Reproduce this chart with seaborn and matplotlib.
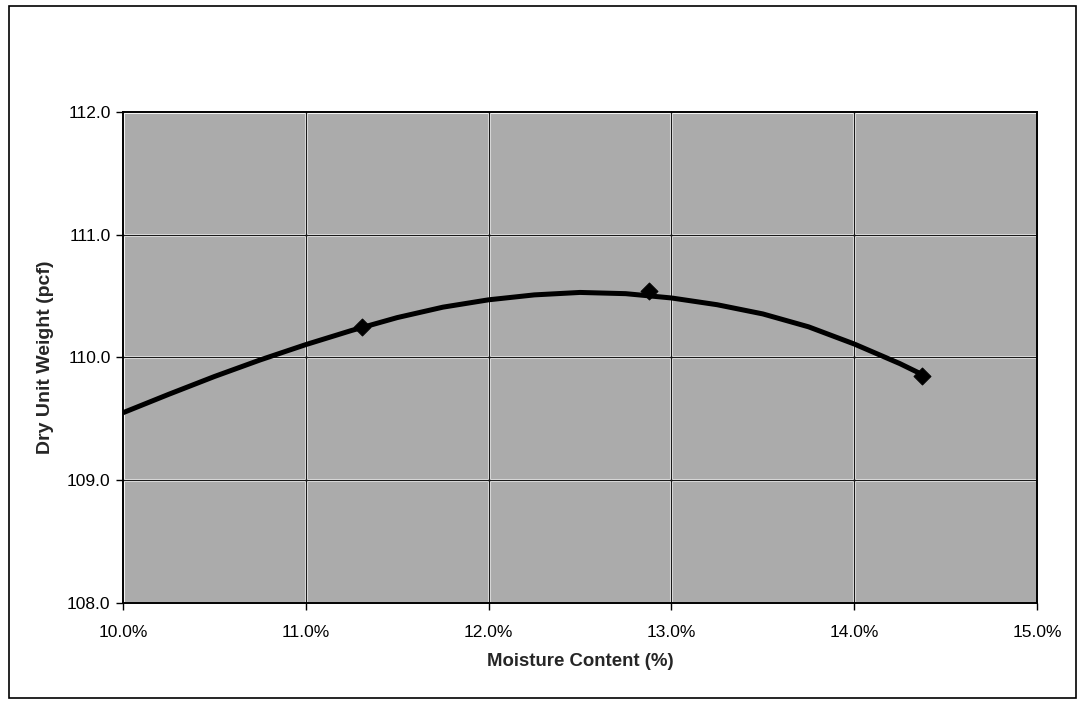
# plot.py
# Dry unit weight vs moisture content (compaction curve)

import numpy as np
import pandas as pd
import matplotlib
matplotlib.use('Agg')
import matplotlib.pyplot as plt
import seaborn as sns
from matplotlib.patches import Rectangle
from matplotlib.ticker import FuncFormatter

# 1. DATA
# measured points (diamonds)
moisture_pts = [11.31, 12.88, 14.37]
density_pts = [110.25, 110.54, 109.85]

# trend curve, read at regular positions
curve_moisture = [10.00, 10.25, 10.50, 10.75, 11.00, 11.25, 11.50, 11.75, 12.00,
                  12.25, 12.50, 12.75, 13.00, 13.25, 13.50, 13.75, 14.00, 14.25, 14.36]
curve_density = [109.55, 109.70, 109.845, 109.98, 110.105, 110.22, 110.325, 110.41, 110.47,
                 110.51, 110.53, 110.52, 110.485, 110.43, 110.355, 110.25, 110.11, 109.95, 109.87]

x_ticks = [10, 11, 12, 13, 14, 15]
y_ticks = [108, 109, 110, 111, 112]

df_pts = pd.DataFrame({'moisture': moisture_pts, 'density': density_pts})
df_curve = pd.DataFrame({'moisture': curve_moisture, 'density': curve_density})

# 2. STYLE
sns.set_style('white')
plt.rcParams['font.family'] = ['Liberation Sans', 'DejaVu Sans']

fig = plt.figure(figsize=(10.81, 7.04), dpi=100)
ax = fig.add_axes([0.1138, 0.1435, 0.8455, 0.6974])
ax.set_facecolor('#ababab')

# 3. PLOT
sns.lineplot(data=df_curve, x='moisture', y='density', ax=ax, color='black',
             linewidth=3.6, sort=False, estimator=None, zorder=3,
             solid_joinstyle='round', solid_capstyle='butt')
sns.scatterplot(data=df_pts, x='moisture', y='density', ax=ax, marker='D', s=75,
                color='black', edgecolor='black', zorder=4)

ax.set_xlim(10, 15)
ax.set_ylim(108, 112)
ax.set_xticks(x_ticks)
ax.set_yticks(y_ticks)
ax.xaxis.set_major_formatter(FuncFormatter(lambda v, p: f'{v:.1f}%'))
ax.yaxis.set_major_formatter(FuncFormatter(lambda v, p: f'{v:.1f}'))

ax.grid(True, color='#f2f2f2', linewidth=2.2, zorder=1)
for t in x_ticks[1:-1]:
    ax.axvline(t, color='#1a1a1a', linewidth=0.9, zorder=2)
for t in y_ticks[1:-1]:
    ax.axhline(t, color='#1a1a1a', linewidth=0.9, zorder=2)
ax.set_axisbelow(True)

ax.tick_params(axis='both', direction='out', length=5, width=1, color='black',
               labelsize=12.5, labelcolor='black')
ax.tick_params(axis='x', pad=11)
ax.tick_params(axis='y', pad=4)
ax.tick_params(bottom=True, left=True)

for side in ax.spines.values():
    side.set_color('black')
    side.set_linewidth(1.4)

ax.set_xlabel('Moisture Content (%)', fontsize=13.4, fontweight='bold', labelpad=9)
ax.set_ylabel('Dry Unit Weight (pcf)', fontsize=14, fontweight='bold', labelpad=9)

# outer chart frame
fig.patches.append(Rectangle((9 / 1081, 6 / 704), 1067 / 1081, 692 / 704,
                             transform=fig.transFigure, fill=False,
                             edgecolor='black', linewidth=1.2))

plt.savefig('out.png', dpi=100)
